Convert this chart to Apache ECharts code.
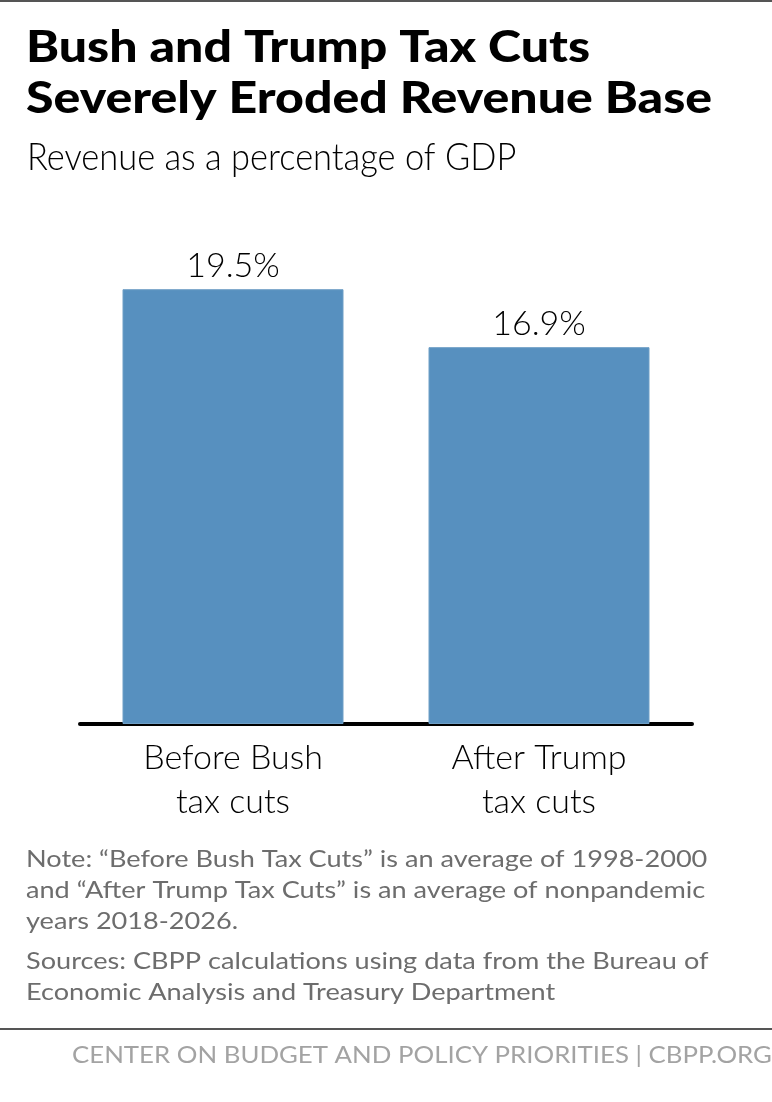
<!DOCTYPE html>
<html><head><meta charset="utf-8">
<style>html,body{margin:0;padding:0;background:#fff}#c{width:772px;height:1102px}</style>
<script src="https://cdn.jsdelivr.net/npm/echarts@6/dist/echarts.min.js"></script></head>
<body><div id="c"></div>
<script>
const categories = ["Before Bush\ntax cuts", "After Trump\ntax cuts"];
const values = [19.5, 16.9];
const titleLines = ["Bush and Trump Tax Cuts", "Severely Eroded Revenue Base"];
const subtitle = "Revenue as a percentage of GDP";
const noteLines = ["Note: “Before Bush Tax Cuts” is an average of 1998-2000",
  "and “After Trump Tax Cuts” is an average of nonpandemic",
  "years 2018-2026."];
const sourceLines = ["Sources: CBPP calculations using data from the Bureau of",
  "Economic Analysis and Treasury Department"];
const footer = "CENTER ON BUDGET AND POLICY PRIORITIES | CBPP.ORG";
const F = "Lato";
// y is the text baseline; glyph box is top-anchored, so shift up by the ascent
function t(text, x, y, size, weight, color, sx){
  return {type:'text', x, y:y-Math.round(size*0.82), scaleX:sx||1, silent:true,
    style:{text, fontFamily:F, fontSize:size, fontWeight:weight, fill:color}};
}
const chart = echarts.init(document.getElementById('c'), null, {renderer:'canvas'});
chart.setOption({
  animation:false,
  grid:{left:80, width:612, top:200, height:524},
  xAxis:{type:'category', data:categories,
    axisLine:{lineStyle:{color:'#000', width:4}}, axisTick:{show:false},
    axisLabel:{color:'#000', fontFamily:F, fontWeight:300, fontSize:34, lineHeight:44, margin:12}},
  yAxis:{type:'value', min:0, max:23.5, show:false, splitLine:{show:false}},
  series:[{type:'bar', data:values, barWidth:221,
    itemStyle:{color:'#5790BF', borderColor:'#6f9fc6', borderWidth:1},
    label:{show:true, position:'top', distance:6, color:'#000', fontFamily:F, fontWeight:300, fontSize:34,
      formatter:p=>p.value.toFixed(1)+'%'}}],
  graphic:[
    {type:'rect', shape:{x:0,y:0,width:772,height:2}, style:{fill:'#555'}, silent:true},
    {type:'rect', shape:{x:0,y:1028,width:772,height:2}, style:{fill:'#555'}, silent:true},
    t(titleLines[0],26,62,44,900,'#000',1.137),
    t(titleLines[1],26,113,44,900,'#000',1.137),
    t(subtitle,27,170,38,300,'#000',0.906),
    ...noteLines.map((s,i)=>t(s,26,867+i*31,24,400,'#6d6d6d',1.13)),
    ...sourceLines.map((s,i)=>t(s,26,969+i*31,24,400,'#6d6d6d',1.13)),
    t(footer,72,1063,23,400,'#a3a3a3',1.122)
  ]
});
</script></body></html>
